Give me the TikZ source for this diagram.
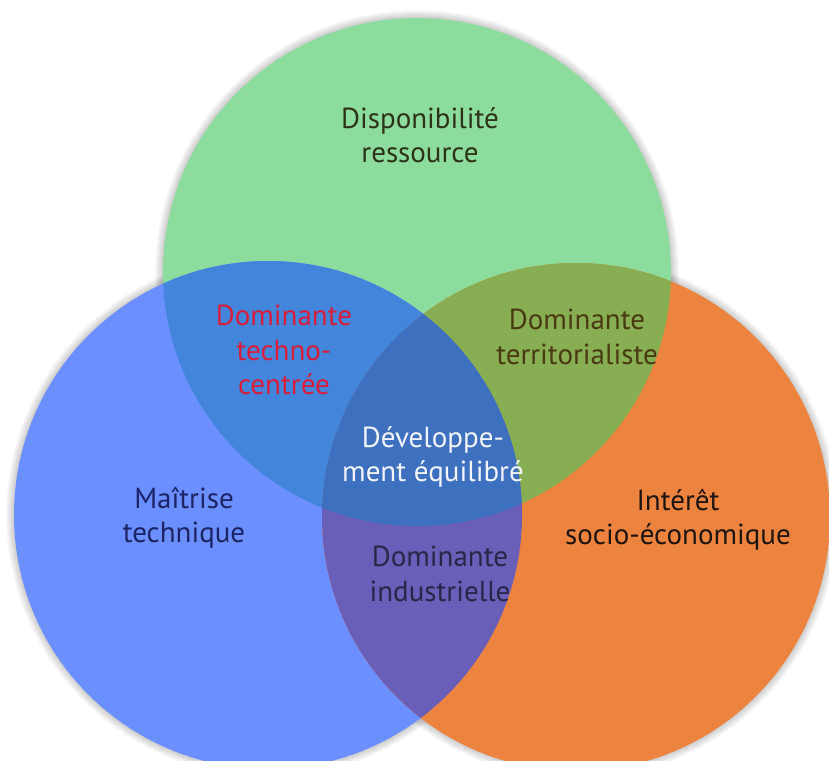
\documentclass[tikz,border=0pt]{standalone}
\usepackage{fontspec}
\setmainfont{PT Sans}
\definecolor{cG}{HTML}{8CDC9E}
\definecolor{cB}{HTML}{6B8FFF}
\definecolor{cO}{HTML}{EC843F}
\definecolor{cGB}{HTML}{4285DA}
\definecolor{cGO}{HTML}{87AE52}
\definecolor{cBO}{HTML}{6A5FB8}
\definecolor{cC}{HTML}{3E70C0}
\definecolor{tRed}{HTML}{D81E3C}
\definecolor{tOlive}{HTML}{4A3A12}
\definecolor{tGreen}{HTML}{2E3318}
\definecolor{tNavy}{HTML}{1C2466}
\definecolor{tDark}{HTML}{2A2648}
\definecolor{tBlack}{HTML}{1E1410}
\definecolor{tWhite}{HTML}{F2F4FA}
\begin{document}
\begin{tikzpicture}[x=1pt,y=-1pt,
  lbl/.style={align=center,font=\fontsize{29}{34.5}\selectfont,inner sep=0pt}]
\useasboundingbox (0,0) rectangle (829,760);
\fill[white] (0,0) rectangle (829,760);
\def\R{254}
\coordinate (G) at (417,272);
\coordinate (B) at (268,515);
\coordinate (O) at (576,517);
% soft shadows
\foreach \i in {1,...,8}{
  \fill[black,opacity=0.025] (G) circle ({\R+\i});
  \fill[black,opacity=0.025] (B) circle ({\R+\i});
  \fill[black,opacity=0.025] (O) circle ({\R+\i});
}
% base circles
\fill[cG] (G) circle (\R);
\fill[cB] (B) circle (\R);
\fill[cO] (O) circle (\R);
% pairwise overlaps
\begin{scope}\clip (G) circle (\R); \fill[cGB] (B) circle (\R);\end{scope}
\begin{scope}\clip (G) circle (\R); \fill[cGO] (O) circle (\R);\end{scope}
\begin{scope}\clip (B) circle (\R); \fill[cBO] (O) circle (\R);\end{scope}
% centre
\begin{scope}\clip (G) circle (\R); \clip (B) circle (\R); \fill[cC] (O) circle (\R);\end{scope}
% labels
\node[lbl,text=tGreen] (disp) at (420,135) {Disponibilité\\ressource};
\node[lbl,text=tRed] (techno) at (284,350) {Dominante\\techno-\\centrée};
\node[lbl,text=tOlive] (terr) at (577,337) {Dominante\\territorialiste};
\node[lbl,text=tWhite] (dev) at (433,457) {Développe-\\ment équilibré};
\node[lbl,text=tNavy] (mait) at (184,518) {Maîtrise\\technique};
\node[lbl,text=tBlack] (inter) at (678,520) {Intérêt\\socio-économique};
\node[lbl,text=tDark] (indus) at (440,574) {Dominante\\industrielle};
\end{tikzpicture}
\end{document}
